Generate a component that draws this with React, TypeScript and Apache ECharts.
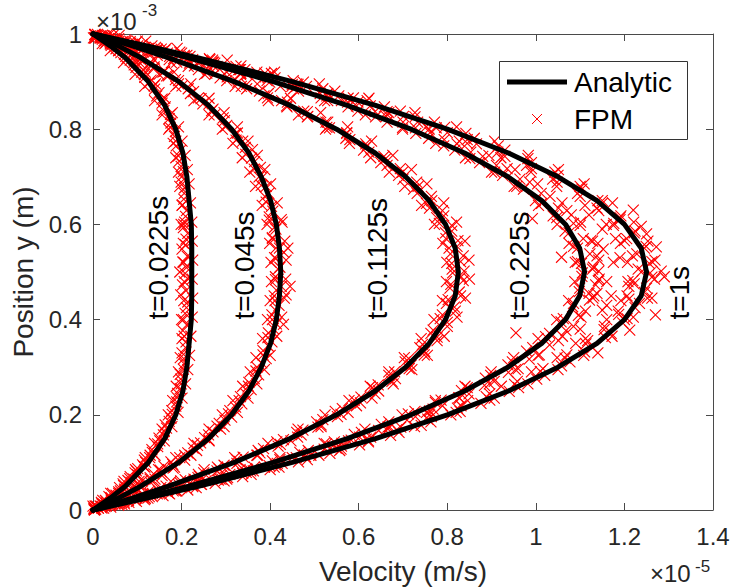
import React, { useEffect, useRef } from "react";
import * as echarts from "echarts";

const FONT = '"Liberation Sans", Arial, Helvetica, sans-serif';
const AXIS_COLOR = "#4a4a4a";
const TEXT_COLOR = "#262626";

// axis ranges (velocity in 1e-5 m/s, position in 1e-3 m)
const xMin = 0;
const xMax = 1.4;
const xStep = 0.2;
const yMin = 0;
const yMax = 1;
const yStep = 0.2;

// analytic profiles: position y and velocity at each time
const positionY = [0, 0.025, 0.05, 0.1, 0.15, 0.2, 0.25, 0.3, 0.35, 0.4, 0.45, 0.5, 0.55, 0.6, 0.65, 0.7, 0.75, 0.8, 0.85, 0.9, 0.95, 0.975, 1];
const analyticT00225 = [0, 0.039, 0.073, 0.125, 0.162, 0.187, 0.203, 0.212, 0.217, 0.222, 0.223, 0.223, 0.223, 0.222, 0.217, 0.212, 0.203, 0.187, 0.162, 0.125, 0.073, 0.039, 0];
const analyticT0045 = [0, 0.057, 0.108, 0.194, 0.261, 0.313, 0.352, 0.38, 0.401, 0.414, 0.421, 0.424, 0.421, 0.414, 0.401, 0.38, 0.352, 0.313, 0.261, 0.194, 0.108, 0.057, 0];
const analyticT01125 = [0, 0.089, 0.171, 0.319, 0.445, 0.55, 0.637, 0.706, 0.759, 0.796, 0.818, 0.825, 0.818, 0.796, 0.759, 0.706, 0.637, 0.55, 0.445, 0.319, 0.171, 0.089, 0];
const analyticT0225 = [0, 0.111, 0.216, 0.407, 0.574, 0.718, 0.839, 0.937, 1.013, 1.067, 1.099, 1.11, 1.099, 1.067, 1.013, 0.937, 0.839, 0.718, 0.574, 0.407, 0.216, 0.111, 0];
const analyticT1 = [0, 0.122, 0.238, 0.45, 0.638, 0.8, 0.938, 1.05, 1.138, 1.2, 1.238, 1.25, 1.238, 1.2, 1.138, 1.05, 0.938, 0.8, 0.638, 0.45, 0.238, 0.122, 0];

// FPM particle values [velocity, position]
const fpmT00225 = [
  [0.003, 0.0], [0.01, 0.006], [0.024, 0.012], [0.03, 0.018], [0.041, 0.026], [0.052, 0.031], [0.058, 0.038], [0.071, 0.044],
  [0.069, 0.051], [0.086, 0.058], [0.083, 0.066], [0.101, 0.074], [0.098, 0.082], [0.115, 0.091], [0.119, 0.1], [0.128, 0.11],
  [0.134, 0.121], [0.146, 0.133], [0.151, 0.145], [0.159, 0.158], [0.166, 0.172], [0.172, 0.186], [0.179, 0.201], [0.187, 0.218],
  [0.19, 0.236], [0.197, 0.255], [0.198, 0.275], [0.204, 0.296], [0.205, 0.318], [0.209, 0.341], [0.206, 0.365], [0.212, 0.389],
  [0.208, 0.413], [0.214, 0.437], [0.21, 0.461], [0.215, 0.485], [0.211, 0.509], [0.213, 0.533], [0.209, 0.557], [0.214, 0.581],
  [0.207, 0.605], [0.211, 0.629], [0.205, 0.653], [0.207, 0.677], [0.2, 0.7], [0.199, 0.722], [0.193, 0.744], [0.188, 0.765],
  [0.184, 0.785], [0.174, 0.804], [0.172, 0.822], [0.16, 0.839], [0.156, 0.855], [0.144, 0.87], [0.139, 0.884], [0.126, 0.897],
  [0.117, 0.909], [0.11, 0.92], [0.097, 0.93], [0.092, 0.94], [0.077, 0.949], [0.071, 0.957], [0.058, 0.965], [0.047, 0.972],
  [0.039, 0.979], [0.025, 0.986], [0.016, 0.992], [0.004, 0.998], [0.198, 0.452], [0.201, 0.548], [0.196, 0.5], [0.2, 0.4], [0.199, 0.6],
  [0.002, 0.004], [0.019, 0.016], [0.036, 0.028], [0.044, 0.035], [0.06, 0.047], [0.068, 0.055], [0.079, 0.062], [0.084, 0.07],
  [0.095, 0.078], [0.101, 0.087], [0.112, 0.095], [0.116, 0.105], [0.129, 0.115], [0.133, 0.127], [0.146, 0.139], [0.149, 0.151],
  [0.161, 0.165], [0.163, 0.179], [0.176, 0.193], [0.178, 0.209], [0.189, 0.227], [0.191, 0.245], [0.199, 0.265], [0.197, 0.285],
  [0.206, 0.307], [0.201, 0.33], [0.21, 0.353], [0.203, 0.377], [0.211, 0.425], [0.202, 0.473], [0.208, 0.497], [0.203, 0.521],
  [0.21, 0.569], [0.204, 0.593], [0.209, 0.617], [0.202, 0.641], [0.206, 0.665], [0.199, 0.689], [0.204, 0.711], [0.195, 0.733],
  [0.197, 0.755], [0.187, 0.775], [0.186, 0.795], [0.176, 0.813], [0.175, 0.831], [0.163, 0.847], [0.156, 0.863], [0.149, 0.877],
  [0.138, 0.891], [0.131, 0.903], [0.116, 0.915], [0.113, 0.925], [0.093, 0.935], [0.084, 0.945], [0.074, 0.953], [0.063, 0.961],
  [0.052, 0.969], [0.041, 0.976], [0.03, 0.983], [0.021, 0.989], [0.01, 0.995],
  [0.005, 0.008], [0.02, 0.013], [0.022, 0.02], [0.04, 0.025], [0.04, 0.035], [0.062, 0.04], [0.07, 0.06], [0.092, 0.065],
  [0.096, 0.085], [0.117, 0.09], [0.118, 0.11], [0.14, 0.115], [0.139, 0.14], [0.161, 0.145], [0.156, 0.17], [0.178, 0.175],
  [0.17, 0.2], [0.192, 0.205], [0.18, 0.23], [0.201, 0.235], [0.188, 0.26], [0.209, 0.265], [0.193, 0.29], [0.214, 0.295],
  [0.197, 0.32], [0.218, 0.325], [0.201, 0.36], [0.221, 0.365], [0.204, 0.4], [0.224, 0.405], [0.205, 0.44], [0.225, 0.445],
  [0.206, 0.48], [0.224, 0.485], [0.205, 0.52], [0.225, 0.525], [0.204, 0.56], [0.224, 0.565], [0.205, 0.6], [0.223, 0.605],
  [0.201, 0.64], [0.22, 0.645], [0.196, 0.68], [0.217, 0.685], [0.193, 0.71], [0.213, 0.715], [0.187, 0.74], [0.208, 0.745],
  [0.181, 0.77], [0.201, 0.775], [0.171, 0.8], [0.193, 0.805], [0.156, 0.83], [0.179, 0.835], [0.139, 0.86], [0.162, 0.865],
  [0.117, 0.89], [0.141, 0.895], [0.095, 0.915], [0.118, 0.92], [0.069, 0.94], [0.093, 0.945], [0.039, 0.965], [0.063, 0.97],
  [0.021, 0.98], [0.041, 0.985], [0.004, 0.992], [0.021, 0.997],
];
const fpmT0045 = [
  [0.002, 0.002], [0.018, 0.008], [0.03, 0.015], [0.041, 0.021], [0.055, 0.027], [0.062, 0.033], [0.081, 0.04], [0.09, 0.047],
  [0.103, 0.054], [0.111, 0.061], [0.129, 0.068], [0.137, 0.076], [0.152, 0.084], [0.16, 0.092], [0.176, 0.101], [0.196, 0.11],
  [0.214, 0.12], [0.226, 0.13], [0.243, 0.141], [0.252, 0.152], [0.271, 0.164], [0.28, 0.176], [0.298, 0.189], [0.306, 0.202],
  [0.322, 0.216], [0.33, 0.23], [0.344, 0.245], [0.351, 0.26], [0.364, 0.276], [0.368, 0.292], [0.381, 0.309], [0.384, 0.326],
  [0.396, 0.344], [0.395, 0.362], [0.407, 0.381], [0.405, 0.4], [0.412, 0.42], [0.411, 0.44], [0.436, 0.452], [0.414, 0.462],
  [0.412, 0.484], [0.418, 0.506], [0.413, 0.528], [0.431, 0.541], [0.413, 0.55], [0.405, 0.572], [0.41, 0.594], [0.398, 0.616],
  [0.403, 0.638], [0.388, 0.659], [0.391, 0.68], [0.375, 0.7], [0.378, 0.72], [0.358, 0.739], [0.36, 0.757], [0.338, 0.775],
  [0.326, 0.792], [0.302, 0.808], [0.294, 0.824], [0.268, 0.839], [0.262, 0.853], [0.238, 0.866], [0.227, 0.879], [0.201, 0.891],
  [0.193, 0.902], [0.17, 0.912], [0.162, 0.922], [0.138, 0.931], [0.129, 0.94], [0.108, 0.948], [0.099, 0.956], [0.078, 0.963],
  [0.07, 0.97], [0.052, 0.976], [0.044, 0.982], [0.029, 0.987], [0.02, 0.992], [0.006, 0.997],
  [0.012, 0.004], [0.024, 0.012], [0.047, 0.018], [0.05, 0.024], [0.074, 0.03], [0.077, 0.037], [0.101, 0.044], [0.104, 0.051],
  [0.13, 0.058], [0.129, 0.065], [0.156, 0.072], [0.154, 0.08], [0.181, 0.088], [0.18, 0.096], [0.207, 0.105], [0.207, 0.115],
  [0.234, 0.125], [0.236, 0.136], [0.262, 0.147], [0.261, 0.158], [0.288, 0.17], [0.285, 0.182], [0.313, 0.195], [0.309, 0.209],
  [0.336, 0.223], [0.333, 0.238], [0.357, 0.253], [0.352, 0.268], [0.374, 0.284], [0.37, 0.3], [0.391, 0.318], [0.384, 0.335],
  [0.404, 0.353], [0.396, 0.372], [0.414, 0.391], [0.404, 0.41], [0.42, 0.43], [0.409, 0.45], [0.425, 0.47], [0.412, 0.49],
  [0.422, 0.51], [0.41, 0.53], [0.421, 0.55], [0.405, 0.57], [0.413, 0.59], [0.398, 0.609], [0.406, 0.628], [0.391, 0.647],
  [0.397, 0.665], [0.38, 0.682], [0.383, 0.7], [0.364, 0.716], [0.365, 0.732], [0.345, 0.747], [0.344, 0.762], [0.323, 0.777],
  [0.322, 0.791], [0.299, 0.805], [0.297, 0.818], [0.274, 0.83], [0.271, 0.842], [0.248, 0.853], [0.244, 0.864], [0.22, 0.875],
  [0.215, 0.885], [0.193, 0.895], [0.186, 0.904], [0.166, 0.912], [0.158, 0.92], [0.138, 0.928], [0.131, 0.935], [0.112, 0.942],
  [0.104, 0.949], [0.087, 0.956], [0.079, 0.963], [0.062, 0.97], [0.054, 0.976], [0.039, 0.982], [0.03, 0.988], [0.015, 0.994],
  [0.445, 0.47], [0.44, 0.55], [0.43, 0.39], [0.425, 0.61],
  [0.005, 0.008], [0.03, 0.013], [0.028, 0.02], [0.058, 0.025], [0.058, 0.035], [0.092, 0.04], [0.104, 0.06], [0.14, 0.065],
  [0.148, 0.085], [0.184, 0.09], [0.187, 0.11], [0.221, 0.115], [0.228, 0.14], [0.262, 0.145], [0.262, 0.17], [0.296, 0.175],
  [0.292, 0.2], [0.326, 0.205], [0.316, 0.23], [0.35, 0.235], [0.338, 0.26], [0.37, 0.265], [0.355, 0.29], [0.387, 0.295],
  [0.368, 0.32], [0.4, 0.325], [0.383, 0.36], [0.415, 0.365], [0.394, 0.4], [0.426, 0.405], [0.4, 0.44], [0.432, 0.445],
  [0.403, 0.48], [0.435, 0.485], [0.402, 0.52], [0.436, 0.525], [0.399, 0.56], [0.433, 0.565], [0.393, 0.6], [0.427, 0.605],
  [0.382, 0.64], [0.416, 0.645], [0.367, 0.68], [0.401, 0.685], [0.354, 0.71], [0.388, 0.715], [0.337, 0.74], [0.371, 0.745],
  [0.316, 0.77], [0.35, 0.775], [0.292, 0.8], [0.326, 0.805], [0.262, 0.83], [0.296, 0.835], [0.228, 0.86], [0.262, 0.865],
  [0.187, 0.89], [0.221, 0.895], [0.149, 0.915], [0.183, 0.92], [0.105, 0.94], [0.139, 0.945], [0.058, 0.965], [0.091, 0.97],
  [0.027, 0.98], [0.059, 0.985], [0.004, 0.992], [0.031, 0.997],
];
const fpmT01125 = [
  [0.004, 0.001], [0.027, 0.007], [0.044, 0.013], [0.07, 0.019], [0.085, 0.025], [0.112, 0.031], [0.124, 0.037], [0.153, 0.043],
  [0.165, 0.05], [0.197, 0.057], [0.208, 0.064], [0.24, 0.071], [0.25, 0.078], [0.285, 0.086], [0.296, 0.094], [0.33, 0.102],
  [0.339, 0.111], [0.377, 0.12], [0.385, 0.129], [0.423, 0.138], [0.43, 0.148], [0.47, 0.158], [0.474, 0.168], [0.515, 0.179],
  [0.519, 0.19], [0.56, 0.201], [0.563, 0.213], [0.604, 0.225], [0.605, 0.237], [0.645, 0.25], [0.644, 0.263], [0.683, 0.276],
  [0.681, 0.29], [0.718, 0.304], [0.713, 0.318], [0.749, 0.333], [0.744, 0.348], [0.777, 0.363], [0.768, 0.378], [0.8, 0.394],
  [0.789, 0.41], [0.816, 0.426], [0.802, 0.442], [0.827, 0.458], [0.808, 0.474], [0.831, 0.49], [0.811, 0.506], [0.83, 0.522],
  [0.807, 0.538], [0.822, 0.554], [0.797, 0.57], [0.81, 0.586], [0.782, 0.602], [0.792, 0.618], [0.76, 0.634], [0.765, 0.65],
  [0.732, 0.665], [0.734, 0.68], [0.7, 0.695], [0.699, 0.71], [0.664, 0.724], [0.661, 0.738], [0.623, 0.752], [0.619, 0.765],
  [0.58, 0.778], [0.573, 0.791], [0.534, 0.803], [0.526, 0.815], [0.485, 0.827], [0.476, 0.838], [0.437, 0.849], [0.426, 0.86],
  [0.386, 0.87], [0.376, 0.88], [0.335, 0.89], [0.327, 0.899], [0.287, 0.908], [0.276, 0.917], [0.238, 0.925], [0.229, 0.933],
  [0.189, 0.941], [0.182, 0.948], [0.145, 0.955], [0.136, 0.962], [0.104, 0.968], [0.093, 0.975], [0.061, 0.981], [0.05, 0.987],
  [0.02, 0.993], [0.005, 0.999],
  [0.02, 0.004], [0.03, 0.01], [0.064, 0.016], [0.072, 0.022], [0.106, 0.028], [0.112, 0.034], [0.148, 0.04], [0.153, 0.047],
  [0.193, 0.054], [0.198, 0.061], [0.237, 0.068], [0.238, 0.075], [0.28, 0.082], [0.281, 0.09], [0.325, 0.098], [0.324, 0.106],
  [0.37, 0.115], [0.373, 0.125], [0.418, 0.134], [0.415, 0.143], [0.462, 0.153], [0.46, 0.163], [0.508, 0.174], [0.505, 0.185],
  [0.552, 0.196], [0.547, 0.207], [0.595, 0.219], [0.59, 0.231], [0.637, 0.244], [0.631, 0.257], [0.675, 0.27], [0.668, 0.283],
  [0.714, 0.297], [0.705, 0.311], [0.748, 0.326], [0.738, 0.341], [0.777, 0.356], [0.763, 0.371], [0.8, 0.386], [0.784, 0.402],
  [0.818, 0.418], [0.798, 0.434], [0.83, 0.45], [0.806, 0.466], [0.836, 0.482], [0.812, 0.498],
  [0.838, 0.502], [0.81, 0.518], [0.836, 0.534], [0.804, 0.55], [0.824, 0.566], [0.796, 0.582], [0.81, 0.598], [0.776, 0.614],
  [0.789, 0.629], [0.753, 0.644], [0.764, 0.659], [0.724, 0.674], [0.731, 0.689], [0.69, 0.703], [0.694, 0.717], [0.65, 0.73],
  [0.657, 0.743], [0.611, 0.756], [0.616, 0.769], [0.571, 0.781], [0.573, 0.793], [0.528, 0.804], [0.53, 0.815], [0.484, 0.826],
  [0.484, 0.837], [0.438, 0.847], [0.439, 0.857], [0.394, 0.866], [0.396, 0.875], [0.347, 0.885], [0.347, 0.894], [0.302, 0.902],
  [0.303, 0.91], [0.257, 0.918], [0.26, 0.925], [0.215, 0.932], [0.218, 0.939], [0.172, 0.946], [0.173, 0.953], [0.127, 0.96],
  [0.131, 0.966], [0.087, 0.972], [0.09, 0.978], [0.046, 0.984], [0.048, 0.99], [0.008, 0.996],
  [0.008, 0.008], [0.05, 0.013], [0.046, 0.02], [0.097, 0.025], [0.096, 0.035], [0.148, 0.04], [0.176, 0.06], [0.228, 0.065],
  [0.251, 0.085], [0.303, 0.09], [0.32, 0.11], [0.372, 0.115], [0.395, 0.14], [0.447, 0.145], [0.463, 0.17], [0.515, 0.175],
  [0.524, 0.2], [0.576, 0.205], [0.578, 0.23], [0.63, 0.235], [0.626, 0.26], [0.678, 0.265], [0.668, 0.29], [0.72, 0.295],
  [0.703, 0.32], [0.755, 0.325], [0.741, 0.36], [0.793, 0.365], [0.77, 0.4], [0.822, 0.405], [0.789, 0.44], [0.841, 0.445],
  [0.798, 0.48], [0.85, 0.485], [0.799, 0.52], [0.849, 0.525], [0.79, 0.56], [0.84, 0.565], [0.771, 0.6], [0.821, 0.605],
  [0.742, 0.64], [0.792, 0.645], [0.704, 0.68], [0.754, 0.685], [0.669, 0.71], [0.719, 0.715], [0.627, 0.74], [0.677, 0.745],
  [0.579, 0.77], [0.629, 0.775], [0.525, 0.8], [0.575, 0.805], [0.464, 0.83], [0.514, 0.835], [0.396, 0.86], [0.446, 0.865],
  [0.321, 0.89], [0.371, 0.895], [0.252, 0.915], [0.302, 0.92], [0.177, 0.94], [0.21, 0.945], [0.097, 0.965], [0.125, 0.97],
  [0.046, 0.98], [0.075, 0.985], [0.006, 0.992], [0.035, 0.997],
];
const fpmT0225 = [
  [0.006, 0.002], [0.03, 0.008], [0.065, 0.012], [0.08, 0.02], [0.118, 0.024], [0.131, 0.032], [0.17, 0.036], [0.181, 0.044],
  [0.225, 0.049], [0.236, 0.058], [0.283, 0.063], [0.29, 0.072], [0.338, 0.077], [0.347, 0.087], [0.398, 0.093], [0.405, 0.103],
  [0.459, 0.11], [0.467, 0.121], [0.522, 0.128], [0.527, 0.139], [0.583, 0.147], [0.59, 0.159], [0.645, 0.167], [0.651, 0.18],
  [0.709, 0.189], [0.712, 0.202], [0.768, 0.212], [0.773, 0.226], [0.826, 0.236], [0.832, 0.251], [0.884, 0.262], [0.886, 0.277],
  [0.938, 0.289], [0.937, 0.305], [0.985, 0.317], [0.979, 0.334], [1.031, 0.347], [1.022, 0.364], [1.068, 0.377], [1.057, 0.395],
  [1.096, 0.409], [1.083, 0.427], [1.121, 0.441], [1.098, 0.459], [1.135, 0.473], [1.104, 0.491],
  [1.128, 0.506], [1.094, 0.522], [1.122, 0.538], [1.085, 0.554], [1.107, 0.57], [1.066, 0.586], [1.085, 0.602], [1.039, 0.618],
  [1.051, 0.634], [0.999, 0.65], [1.012, 0.665], [0.957, 0.68], [0.964, 0.695], [0.907, 0.71], [0.911, 0.724], [0.851, 0.738],
  [0.853, 0.752], [0.792, 0.765], [0.793, 0.778], [0.729, 0.791], [0.728, 0.803], [0.664, 0.815], [0.662, 0.827], [0.598, 0.838],
  [0.595, 0.849], [0.53, 0.86], [0.528, 0.87], [0.464, 0.88], [0.46, 0.89], [0.399, 0.899], [0.396, 0.908], [0.333, 0.917],
  [0.333, 0.925], [0.272, 0.933], [0.27, 0.941], [0.212, 0.948], [0.212, 0.955], [0.155, 0.962], [0.154, 0.968], [0.101, 0.975],
  [0.096, 0.981], [0.049, 0.987], [0.041, 0.993], [0.004, 0.999],
  [1.058, 0.531], [1.152, 0.548], [0.992, 0.612], [1.138, 0.455], [0.76, 0.208], [0.56, 0.128], [0.955, 0.372],
  [0.024, 0.004], [0.04, 0.01], [0.081, 0.016], [0.094, 0.022], [0.134, 0.028], [0.145, 0.034], [0.186, 0.04], [0.199, 0.047],
  [0.245, 0.054], [0.255, 0.061], [0.3, 0.068], [0.309, 0.075], [0.356, 0.082], [0.364, 0.09], [0.416, 0.098], [0.422, 0.106],
  [0.477, 0.115], [0.486, 0.125], [0.541, 0.134], [0.545, 0.143], [0.602, 0.153], [0.606, 0.163], [0.666, 0.174], [0.668, 0.185],
  [0.728, 0.196], [0.727, 0.207], [0.789, 0.219], [0.786, 0.231], [0.849, 0.244], [0.845, 0.257], [0.906, 0.27], [0.898, 0.283],
  [0.96, 0.297], [0.947, 0.311], [1.008, 0.326], [0.993, 0.341], [1.051, 0.356], [1.031, 0.371], [1.085, 0.386], [1.062, 0.402],
  [1.112, 0.418], [1.085, 0.434], [1.131, 0.45], [1.099, 0.466], [1.141, 0.482], [1.105, 0.498],
  [1.142, 0.502], [1.103, 0.518], [1.138, 0.534], [1.094, 0.55], [1.124, 0.566], [1.075, 0.582], [1.1, 0.598], [1.047, 0.614],
  [1.07, 0.629], [1.013, 0.644], [1.032, 0.659], [0.972, 0.674], [0.986, 0.689], [0.925, 0.703], [0.935, 0.717], [0.873, 0.73],
  [0.88, 0.743], [0.817, 0.756], [0.822, 0.769], [0.758, 0.781], [0.761, 0.793], [0.699, 0.804], [0.7, 0.815], [0.638, 0.826],
  [0.637, 0.837], [0.576, 0.847], [0.575, 0.857], [0.515, 0.866], [0.513, 0.875], [0.453, 0.885], [0.45, 0.894], [0.393, 0.902],
  [0.389, 0.91], [0.334, 0.918], [0.33, 0.925], [0.28, 0.932], [0.275, 0.939], [0.225, 0.946], [0.219, 0.953], [0.168, 0.96],
  [0.162, 0.966], [0.117, 0.972], [0.111, 0.978], [0.066, 0.984], [0.058, 0.99], [0.017, 0.996],
  [0.016, 0.008], [0.071, 0.013], [0.069, 0.02], [0.124, 0.025], [0.134, 0.035], [0.189, 0.04], [0.236, 0.06], [0.291, 0.065],
  [0.332, 0.085], [0.387, 0.09], [0.422, 0.11], [0.477, 0.115], [0.522, 0.14], [0.577, 0.145], [0.614, 0.17], [0.669, 0.175],
  [0.698, 0.2], [0.753, 0.205], [0.773, 0.23], [0.828, 0.235], [0.84, 0.26], [0.895, 0.265], [0.899, 0.29], [0.954, 0.295],
  [0.95, 0.32], [1.005, 0.325], [1.005, 0.36], [1.06, 0.365], [1.047, 0.4], [1.102, 0.405], [1.074, 0.44], [1.129, 0.445],
  [1.088, 0.48], [1.143, 0.485], [1.089, 0.52], [1.142, 0.525], [1.075, 0.56], [1.128, 0.565], [1.048, 0.6], [1.101, 0.605],
  [1.006, 0.64], [1.059, 0.645], [0.951, 0.68], [1.004, 0.685], [0.9, 0.71], [0.953, 0.715], [0.841, 0.74], [0.894, 0.745],
  [0.774, 0.77], [0.827, 0.775], [0.699, 0.8], [0.752, 0.805], [0.615, 0.83], [0.668, 0.835], [0.523, 0.86], [0.576, 0.865],
  [0.423, 0.89], [0.46, 0.895], [0.333, 0.915], [0.37, 0.92], [0.237, 0.94], [0.27, 0.945], [0.135, 0.965], [0.165, 0.97],
  [0.07, 0.98], [0.1, 0.985], [0.017, 0.992], [0.045, 0.997],
];
const fpmT1 = [
  [0.004, 0.001], [0.04, 0.006], [0.056, 0.014], [0.098, 0.018], [0.112, 0.026], [0.158, 0.03], [0.168, 0.038], [0.214, 0.042],
  [0.226, 0.051], [0.276, 0.056], [0.287, 0.065], [0.338, 0.07], [0.346, 0.079], [0.4, 0.085], [0.412, 0.095], [0.464, 0.101],
  [0.48, 0.112], [0.535, 0.119], [0.549, 0.13], [0.602, 0.137], [0.617, 0.149], [0.672, 0.157], [0.686, 0.169], [0.741, 0.178],
  [0.756, 0.191], [0.808, 0.2], [0.823, 0.214], [0.876, 0.224], [0.888, 0.238], [0.94, 0.249], [0.952, 0.264], [1.002, 0.275],
  [1.01, 0.291], [1.058, 0.303], [1.066, 0.319], [1.11, 0.332], [1.113, 0.349], [1.157, 0.362], [1.154, 0.379], [1.196, 0.393],
  [1.187, 0.411], [1.224, 0.425], [1.21, 0.443], [1.245, 0.457], [1.222, 0.475], [1.262, 0.489],
  [1.231, 0.506], [1.262, 0.522], [1.228, 0.538], [1.249, 0.554], [1.205, 0.57], [1.224, 0.586], [1.176, 0.602], [1.192, 0.618],
  [1.138, 0.634], [1.15, 0.65], [1.094, 0.665], [1.1, 0.68], [1.038, 0.695], [1.043, 0.71], [0.979, 0.724], [0.982, 0.738],
  [0.914, 0.752], [0.915, 0.765], [0.845, 0.778], [0.842, 0.791], [0.775, 0.803], [0.771, 0.815], [0.701, 0.827], [0.694, 0.838],
  [0.626, 0.849], [0.619, 0.86], [0.555, 0.87], [0.546, 0.88], [0.482, 0.89], [0.475, 0.899], [0.411, 0.908], [0.403, 0.917],
  [0.343, 0.925], [0.334, 0.933], [0.272, 0.941], [0.263, 0.948], [0.206, 0.955], [0.196, 0.962], [0.145, 0.968], [0.133, 0.975],
  [0.085, 0.981], [0.073, 0.987], [0.028, 0.993], [0.01, 0.999],
  [1.283, 0.502], [1.272, 0.553], [1.262, 0.445], [1.238, 0.596], [1.212, 0.378], [1.14, 0.33], [1.175, 0.52], [1.16, 0.48],
  [1.14, 0.56], [1.12, 0.455], [1.19, 0.61], [1.15, 0.42], [1.08, 0.62], [1.1, 0.38],
  [0.012, 0.004], [0.058, 0.01], [0.07, 0.016], [0.116, 0.022], [0.127, 0.028], [0.173, 0.034], [0.181, 0.04], [0.233, 0.047],
  [0.244, 0.054], [0.296, 0.061], [0.304, 0.068], [0.357, 0.075], [0.362, 0.082], [0.42, 0.09], [0.427, 0.098], [0.484, 0.106],
  [0.492, 0.115], [0.557, 0.125], [0.561, 0.134], [0.622, 0.143], [0.627, 0.153], [0.691, 0.163], [0.695, 0.174], [0.763, 0.185],
  [0.764, 0.196], [0.829, 0.207], [0.831, 0.219], [0.896, 0.231], [0.896, 0.244], [0.961, 0.257], [0.958, 0.27], [1.02, 0.283],
  [1.016, 0.297], [1.077, 0.311], [1.07, 0.326], [1.128, 0.341], [1.117, 0.356], [1.17, 0.371], [1.155, 0.386], [1.206, 0.402],
  [1.186, 0.418], [1.234, 0.434], [1.206, 0.45], [1.25, 0.466], [1.219, 0.482], [1.258, 0.498],
  [1.24, 0.502], [1.256, 0.518], [1.218, 0.534], [1.245, 0.55], [1.2, 0.566], [1.222, 0.582], [1.175, 0.598], [1.19, 0.614],
  [1.142, 0.629], [1.15, 0.644], [1.1, 0.659], [1.104, 0.674], [1.048, 0.689], [1.05, 0.703], [0.99, 0.717], [0.99, 0.73],
  [0.93, 0.743], [0.93, 0.756], [0.866, 0.769], [0.861, 0.781], [0.8, 0.793], [0.794, 0.804], [0.733, 0.815], [0.727, 0.826],
  [0.664, 0.837], [0.658, 0.847], [0.598, 0.857], [0.588, 0.866], [0.53, 0.875], [0.519, 0.885], [0.463, 0.894], [0.452, 0.902],
  [0.394, 0.91], [0.388, 0.918], [0.329, 0.925], [0.323, 0.932], [0.268, 0.939], [0.264, 0.946], [0.206, 0.953], [0.2, 0.96],
  [0.145, 0.966], [0.141, 0.972], [0.088, 0.978], [0.084, 0.984], [0.035, 0.99], [0.025, 0.996],
  [1.17, 0.45], [1.19, 0.53], [1.15, 0.59], [1.13, 0.51], [1.21, 0.47], [1.18, 0.57], [1.16, 0.43], [1.12, 0.62],
  [1.2, 0.4], [1.14, 0.65], [1.09, 0.35], [1.22, 0.63], [1.25, 0.58], [1.29, 0.49], [1.27, 0.41],
  [0.0, 0.008], [0.06, 0.013], [0.058, 0.02], [0.118, 0.025], [0.129, 0.035], [0.189, 0.04], [0.242, 0.06], [0.302, 0.065],
  [0.349, 0.085], [0.409, 0.09], [0.45, 0.11], [0.51, 0.115], [0.562, 0.14], [0.622, 0.145], [0.666, 0.17], [0.726, 0.175],
  [0.76, 0.2], [0.82, 0.205], [0.846, 0.23], [0.906, 0.235], [0.922, 0.26], [0.982, 0.265], [0.99, 0.29], [1.05, 0.295],
  [1.048, 0.32], [1.108, 0.325], [1.112, 0.36], [1.172, 0.365], [1.16, 0.4], [1.22, 0.405], [1.192, 0.44], [1.252, 0.445],
  [1.208, 0.48], [1.268, 0.485], [1.207, 0.52], [1.269, 0.525], [1.191, 0.56], [1.253, 0.565], [1.159, 0.6], [1.221, 0.605],
  [1.111, 0.64], [1.173, 0.645], [1.047, 0.68], [1.109, 0.685], [0.989, 0.71], [1.051, 0.715], [0.921, 0.74], [0.983, 0.745],
  [0.845, 0.77], [0.907, 0.775], [0.759, 0.8], [0.821, 0.805], [0.665, 0.83], [0.727, 0.835], [0.561, 0.86], [0.623, 0.865],
  [0.449, 0.89], [0.511, 0.895], [0.348, 0.915], [0.41, 0.92], [0.241, 0.94], [0.303, 0.945], [0.128, 0.965], [0.19, 0.97],
  [0.057, 0.98], [0.119, 0.985], [0.001, 0.992], [0.059, 0.997],
];

// time annotations: text, anchor velocity, anchor position (start of rotated text)
const timeLabels = ["t=0.0225s", "t=0.045s", "t=0.1125s", "t=0.225s", "t=1s"];
const timeLabelU = [0.147, 0.343, 0.643, 0.963, 1.324];
const timeLabelY = 0.4;

const legendNames = ["Analytic", "FPM"];

const CROSS = "path://M0,0L10,10M10,0L0,10";

function fmt(v: number) {
  return String(parseFloat(v.toFixed(2)));
}

export default function App() {
  const ref = useRef<HTMLDivElement>(null);
  useEffect(() => {
    if (!ref.current) return;
    const chart = echarts.init(ref.current, null, { renderer: "svg" });
    const analyticSets = [analyticT00225, analyticT0045, analyticT01125, analyticT0225, analyticT1];
    const fpmSets = [fpmT00225, fpmT0045, fpmT01125, fpmT0225, fpmT1];
    const lineStyle = { color: AXIS_COLOR, width: 1 };
    const tick = { show: true, inside: true, length: 7, lineStyle };
    const labelStyle = { fontFamily: FONT, fontSize: 24, color: TEXT_COLOR };
    chart.setOption({
      animation: false,
      backgroundColor: "#ffffff",
      grid: { left: 93, right: 17, top: 34, bottom: 77, outerBoundsMode: "none", containLabel: false },
      xAxis: [
        {
          type: "value", min: xMin, max: xMax, interval: xStep, position: "bottom",
          name: "Velocity (m/s)", nameLocation: "middle", nameGap: 47,
          nameTextStyle: { fontFamily: FONT, fontSize: 28, color: TEXT_COLOR },
          axisLine: { show: true, onZero: false, lineStyle }, axisTick: tick,
          axisLabel: { ...labelStyle, margin: 14, formatter: fmt },
          splitLine: { show: false },
        },
        {
          type: "value", min: xMin, max: xMax, interval: xStep, position: "top",
          axisLine: { show: true, onZero: false, lineStyle }, axisTick: tick,
          axisLabel: { show: false }, splitLine: { show: false },
        },
      ],
      yAxis: [
        {
          type: "value", min: yMin, max: yMax, interval: yStep, position: "left",
          name: "Position y (m)", nameLocation: "middle", nameGap: 54,
          nameTextStyle: { fontFamily: FONT, fontSize: 28, color: TEXT_COLOR },
          axisLine: { show: true, onZero: false, lineStyle }, axisTick: tick,
          axisLabel: { ...labelStyle, margin: 11, formatter: fmt },
          splitLine: { show: false },
        },
        {
          type: "value", min: yMin, max: yMax, interval: yStep, position: "right",
          axisLine: { show: true, onZero: false, lineStyle }, axisTick: tick,
          axisLabel: { show: false }, splitLine: { show: false },
        },
      ],
      series: [
        ...fpmSets.map((d) => ({
          type: "scatter", name: "FPM", data: d, xAxisIndex: 0, yAxisIndex: 0,
          symbol: CROSS, symbolSize: 11, clip: false, silent: true, z: 2,
          itemStyle: { color: "transparent", borderColor: "#ff0000", borderWidth: 1.1, opacity: 1 },
        })),
        ...analyticSets.map((a) => ({
          type: "line", name: "Analytic", xAxisIndex: 0, yAxisIndex: 0,
          data: positionY.map((y, i) => [a[i], y]),
          symbol: "none", clip: false, silent: true, z: 3,
          lineStyle: { color: "#000000", width: 5, join: "round", cap: "round" },
        })),
      ],
    });

    const graphics: any[] = [];
    timeLabels.forEach((t, i) => {
      const p = chart.convertToPixel({ xAxisIndex: 0, yAxisIndex: 0 }, [timeLabelU[i], timeLabelY]) as number[];
      graphics.push({
        type: "text", x: p[0], y: p[1], rotation: Math.PI / 2, z: 10,
        style: { text: t, fontFamily: FONT, fontSize: 28, fill: "#000000", textAlign: "left", textVerticalAlign: "middle", align: "left", verticalAlign: "middle" },
      });
    });
    // exponent labels
    const txt = (x: number, y: number, text: string, size: number) => ({
      type: "text", x, y, z: 10,
      style: { text, fontFamily: FONT, fontSize: size, lineHeight: size - 4, fill: TEXT_COLOR, textAlign: "left", textVerticalAlign: "middle", align: "left", verticalAlign: "middle" },
    });
    graphics.push(txt(96, 21, "×10", 24));
    graphics.push(txt(142, 10, "-3", 17));
    graphics.push(txt(650, 573, "×10", 24));
    graphics.push(txt(695, 566, "-5", 17));

    // legend box
    graphics.push({
      type: "rect", shape: { x: 499.5, y: 61.5, width: 188, height: 78 }, z: 20,
      style: { fill: "#ffffff", stroke: "#333333", lineWidth: 1 },
    });
    graphics.push({
      type: "line", shape: { x1: 507, y1: 82, x2: 567, y2: 82 }, z: 21,
      style: { stroke: "#000000", lineWidth: 5 },
    });
    graphics.push({
      type: "line", shape: { x1: 532, y1: 114, x2: 542, y2: 124 }, z: 21,
      style: { stroke: "#ff0000", lineWidth: 1 },
    });
    graphics.push({
      type: "line", shape: { x1: 542, y1: 114, x2: 532, y2: 124 }, z: 21,
      style: { stroke: "#ff0000", lineWidth: 1 },
    });
    legendNames.forEach((n, i) => {
      graphics.push({
        type: "text", x: 574, y: i === 0 ? 82 : 119, z: 21,
        style: { text: n, fontFamily: FONT, fontSize: 28, fill: "#000000", textAlign: "left", textVerticalAlign: "middle", align: "left", verticalAlign: "middle" },
      });
    });
    chart.setOption({ graphic: graphics });
    return () => chart.dispose();
  }, []);
  return <div ref={ref} style={{ position: "fixed", left: 0, top: 0, width: 730, height: 587 }} />;
}
